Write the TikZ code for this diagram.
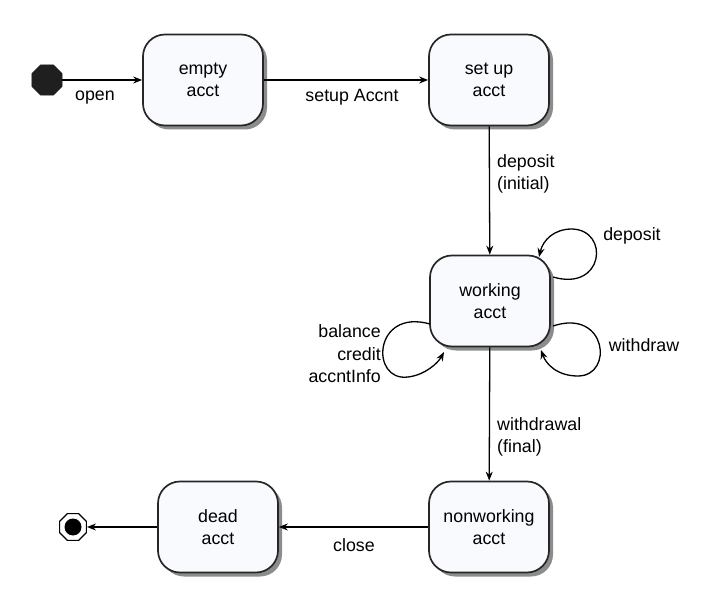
\documentclass[tikz,border=0pt]{standalone}
\usepackage{fontspec}
\setmainfont{Liberation Sans}
\usetikzlibrary{arrows.meta,shapes.geometric,shadows}
\begin{document}
\begin{tikzpicture}[x=1pt,y=-1pt,
  font=\fontsize{17.8}{22.5}\selectfont,
  state/.style={draw=black!85,line width=1.7pt,fill={rgb,255:red,248;green,250;blue,254},
    rectangle,rounded corners=22pt,minimum width=120pt,minimum height=91pt,
    align=center,
    drop shadow={shadow xshift=4pt,shadow yshift=-4pt,fill=black!45,opacity=1}},
  tr/.style={line width=1.3pt,-{Stealth[length=9pt,width=7pt]}},
  lbl/.style={inner sep=0pt}
]
\useasboundingbox (0,0) rectangle (716,610);
% states
\node[state] (empty) at (203,80) {empty\\acct};
\node[state] (setup) at (489,80) {set up\\acct};
\node[state] (work) at (490,301) {working\\acct};
\node[state] (nonw) at (489,527) {nonworking\\acct};
\node[state] (dead) at (218,527) {dead\\acct};
% initial and final
\node[regular polygon,regular polygon sides=8,fill=black!88,draw=black!88,minimum size=33pt,inner sep=0pt] (init) at (47,80) {};
\node[regular polygon,regular polygon sides=8,fill=white,draw=black,line width=1.2pt,minimum size=29pt,inner sep=0pt] (fin) at (73,527) {};
\node[circle,fill=black,minimum size=17pt,inner sep=0pt] (finin) at (fin) {};
% transitions
\draw[tr] (init) -- (empty);
\node[lbl] (lopen) at (95,98) {open};
\draw[tr] (empty) -- (setup);
\node[lbl] (lsetup) at (352,97) {setup Accnt};
\draw[tr] (setup) -- (work);
\node[lbl,anchor=west,align=left] (ldep) at (497,174) {deposit\\(initial)};
\draw[tr] (work) -- (nonw);
\node[lbl,anchor=west,align=left] (lwd) at (497,437) {withdrawal\\(final)};
\draw[tr] (nonw) -- (dead);
\node[lbl] (lclose) at (354,545) {close};
\draw[tr] (dead) -- (fin);
% self loops
\coordinate (d1) at (553,277);
\coordinate (d2) at (539,257);
\draw[tr] (d1) .. controls (604,292) and (610,230) .. (572,229) .. controls (554,229) and (543,240) .. (d2);
\node[lbl] (ldeposit) at (632,236) {deposit};
\coordinate (w1) at (553,326);
\coordinate (w2) at (541,350);
\draw[tr] (w1) .. controls (607,308) and (614,376) .. (578,376) .. controls (557,376) and (546,364) .. (w2);
\node[lbl] (lwithdraw) at (644,345) {withdraw};
\coordinate (b1) at (430,324);
\coordinate (b2) at (444,352);
\draw[tr] (b1) .. controls (373,308) and (370,382) .. (408,377) .. controls (425,375) and (438,363) .. (b2);
\node[lbl,anchor=east,align=right] (lbal) at (381,354) {balance\\credit\\accntInfo};
\end{tikzpicture}
\end{document}
